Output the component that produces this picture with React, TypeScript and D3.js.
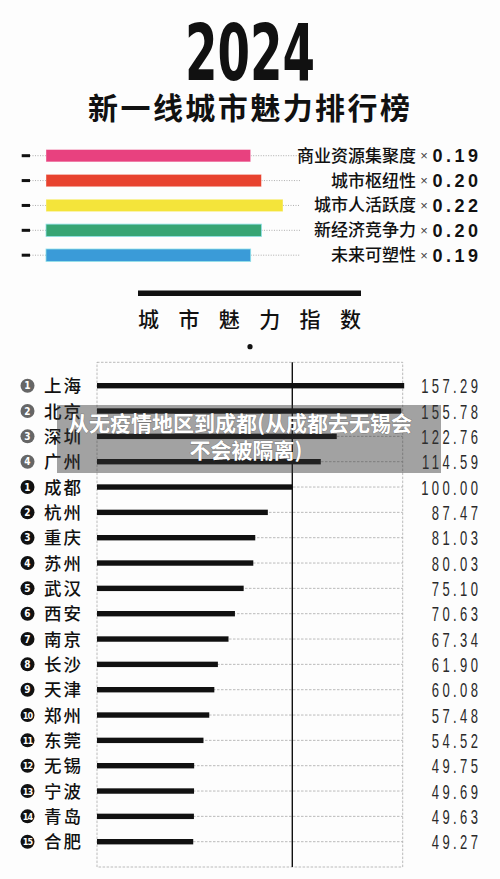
import React from "react";
import * as d3 from "d3";

const factorNames = ["商业资源集聚度", "城市枢纽性", "城市人活跃度", "新经济竞争力", "未来可塑性"];
const factorWeights = [0.19, 0.2, 0.22, 0.2, 0.19];
const factorColors = ["#e8417f", "#e8432f", "#f4e43a", "#37a574", "#3a9bd8"];

const cities = ["上海", "北京", "深圳", "广州", "成都", "杭州", "重庆", "苏州", "武汉", "西安", "南京", "长沙", "天津", "郑州", "东莞", "无锡", "宁波", "青岛", "合肥"];
const ranks = [1, 2, 3, 4, 1, 2, 3, 4, 5, 6, 7, 8, 9, 10, 11, 12, 13, 14, 15];
const scores = [157.29, 155.78, 122.76, 114.59, 100.0, 87.47, 81.03, 80.03, 75.1, 70.63, 67.34, 61.9, 60.08, 57.48, 54.52, 49.75, 49.69, 49.63, 49.27];
const tierOne = ["上海", "北京", "深圳", "广州"];

const overlayLines = ["从无疫情地区到成都(从成都去无锡会", "不会被隔离)"];

const CJK = '"Noto Sans CJK SC", "Noto Sans", sans-serif';
const COND = '"DejaVu Sans Condensed", "DejaVu Sans", sans-serif';
const SANS = '"Liberation Sans", Arial, sans-serif';

export default function App() {
  const W = 500, H = 879;
  // legend scale: weight -> bar end
  const lx = d3.scaleLinear().domain([0, 0.22]).range([46, 283]);
  const ly = d3.scalePoint<string>().domain(factorNames).range([155.7, 255.2]);

  // chart scales
  const x = d3.scaleLinear().domain([0, 100]).range([97, 292.3]);
  const y = d3.scalePoint<string>().domain(cities).range([385.7, 841.7]);
  const frameL = 97, frameR = 402.7, frameT = 362.3, frameB = 867;

  const valScale = 0.62;
  const valSpacing = 5.5;

  return (
    <svg width={W} height={H} viewBox={`0 0 ${W} ${H}`} style={{ position: "absolute", left: 0, top: 0, background: "#fff" }}>
      <rect x={0} y={0} width={W} height={H} fill="#fdfdfd" />
      {/* Title */}
      <text x={250} y={80} textAnchor="middle" fontFamily={COND} fontWeight={700} fontSize={79} textLength={130} lengthAdjust="spacingAndGlyphs" fill="#111">2024</text>
      <text x={249} y={119} textAnchor="middle" fontFamily={CJK} fontWeight={700} fontSize={30} textLength={322} lengthAdjust="spacing" fill="#111">新一线城市魅力排行榜</text>

      {/* Legend */}
      {factorNames.map((n, i) => {
        const cy = ly(n)!;
        const end = lx(factorWeights[i]);
        return (
          <g key={n}>
            <line x1={30} x2={46} y1={cy} y2={cy} stroke="#999" strokeWidth={0.8} strokeDasharray="1,1.5" />
            <line x1={end} x2={300} y1={cy} y2={cy} stroke="#999" strokeWidth={0.8} strokeDasharray="1,1.5" />
            <rect x={21.7} y={cy - 1.5} width={8.3} height={3} fill="#111" />
            <rect x={46} y={cy - 6.2} width={end - 46} height={12.4} fill={factorColors[i]} stroke={i >= 3 ? "#8fe0e8" : "rgba(255,255,255,0.5)"} strokeWidth={0.8} />
            <rect x={300} y={cy - 9} width={118} height={18} fill="#fdfdfd" />
            <text x={416} y={cy + 6} textAnchor="end" fontFamily={CJK} fontWeight={500} fontSize={17} fill="#111">{n}</text>
            <text x={424} y={cy + 4.5} textAnchor="middle" fontFamily={SANS} fontSize={13} fill="#444">×</text>
            <text x={481.5} y={cy + 6.5} textAnchor="end" fontFamily={SANS} fontWeight={700} fontSize={18} letterSpacing={3.5} fill="#111">{factorWeights[i].toFixed(2)}</text>
          </g>
        );
      })}

      {/* Section header */}
      <rect x={138} y={290.5} width={223} height={5.5} fill="#111" />
      <text x={249.5} y={326.5} textAnchor="middle" fontFamily={CJK} fontWeight={500} fontSize={21} textLength={223} lengthAdjust="spacing" fill="#111">城市魅力指数</text>
      <circle cx={250} cy={346.7} r={2.6} fill="#111" />

      {/* Frame */}
      <rect x={frameL} y={frameT} width={frameR - frameL} height={frameB - frameT} fill="none" stroke="#aaa" strokeWidth={0.8} strokeDasharray="2.5,1.5" />
      {cities.map((c) => (
        <line key={"g" + c} x1={frameL} x2={frameR} y1={y(c)!} y2={y(c)!} stroke="#aaa" strokeWidth={0.8} strokeDasharray="2.5,1.5" />
      ))}
      {/* Bars */}
      {cities.map((c, i) => (
        <rect key={"b" + c} x={x(0)} y={y(c)! - 2.7} width={x(scores[i]) - x(0)} height={5.4} fill="#111" />
      ))}
      <line x1={x(100)} x2={x(100)} y1={frameT} y2={frameB} stroke="#111" strokeWidth={1.4} />

      {/* Labels */}
      {cities.map((c, i) => {
        const cy = y(c)!;
        const gray = tierOne.includes(c);
        return (
          <g key={"l" + c}>
            <circle cx={27.5} cy={cy} r={7} fill={gray ? "#666" : "#111"} />
            <text x={27.5} y={cy + 3.5} textAnchor="middle" fontFamily={COND} fontWeight={700} fontSize={ranks[i] >= 10 ? 9 : 10} letterSpacing={ranks[i] >= 10 ? -0.8 : 0} fill="#fff">{ranks[i]}</text>
            <text x={44} y={cy + 6.5} fontFamily={CJK} fontWeight={500} fontSize={17.5} letterSpacing={2} fill="#111">{c}</text>
            <text transform={`translate(${478 + valSpacing * valScale}, ${cy + 7.5}) scale(${valScale}, 1)`} textAnchor="end" fontFamily={SANS} fontWeight={400} fontSize={21} letterSpacing={valSpacing} fill="#2a2a2a">{scores[i].toFixed(2)}</text>
          </g>
        );
      })}

      {/* Watermark overlay */}
      <rect x={57} y={405} width={384} height={68} fill="rgba(50,50,50,0.45)" />
      <text x={240} y={430.5} textAnchor="middle" fontFamily={CJK} fontWeight={700} fontSize={21} fill="#fff" style={{ paintOrder: "stroke" }} stroke="rgba(0,0,0,0.25)" strokeWidth={1}>{overlayLines[0]}</text>
      <text x={246} y={457.5} textAnchor="middle" fontFamily={CJK} fontWeight={700} fontSize={21} fill="#fff" style={{ paintOrder: "stroke" }} stroke="rgba(0,0,0,0.25)" strokeWidth={1}>{overlayLines[1]}</text>
    </svg>
  );
}
